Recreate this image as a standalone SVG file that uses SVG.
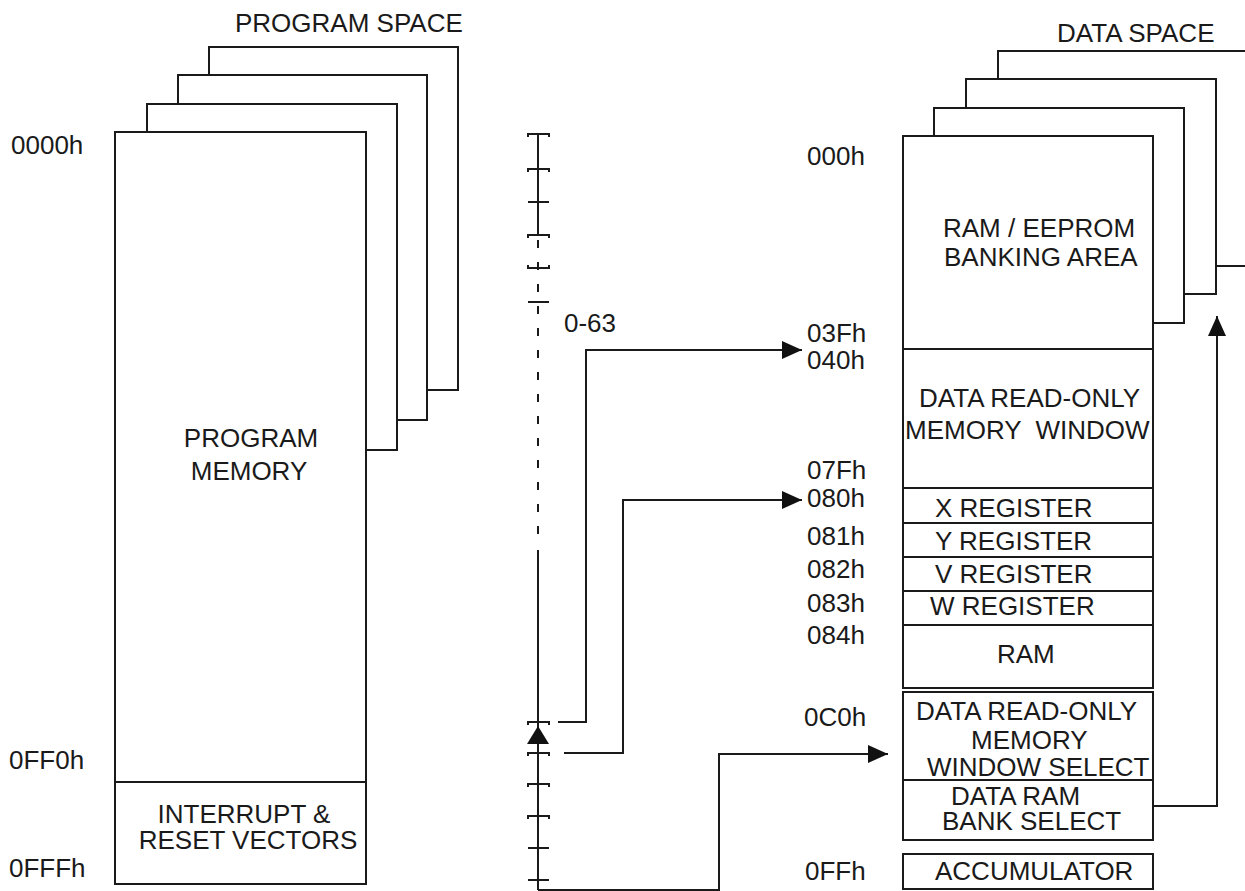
<svg xmlns="http://www.w3.org/2000/svg" width="1245" height="891" viewBox="0 0 1245 891">
<style>
.ln{fill:none;stroke:#1a1a1a;stroke-width:2}
.cell{fill:none;stroke:#1a1a1a;stroke-width:2}
.t{font-family:"Liberation Sans",Arial,sans-serif;font-size:26px;fill:#1a1a1a;white-space:pre}
.m{text-anchor:middle}
.dash{fill:none;stroke:#1a1a1a;stroke-width:2;stroke-dasharray:8 14}
</style>
<defs>
<marker id="ah" markerUnits="userSpaceOnUse" markerWidth="20" markerHeight="18" refX="20" refY="9" orient="auto">
<path d="M0,0 L20,9 L0,18 z" fill="#111"/>
</marker>
</defs>
<rect width="1245" height="891" fill="#fff"/>

<g id="program-space">
<text class="t" x="235" y="32">PROGRAM SPACE</text>
<path class="ln" d="M209,75 V47 H458 V390 H427"/>
<path class="ln" d="M178,104 V75 H427 V420 H397"/>
<path class="ln" d="M147,132 V104 H397 V450 H366"/>
</g>
<g id="program-memory">
<rect class="cell" x="115" y="132" width="251" height="650"/>
<text class="t m" x="251" y="447">PROGRAM</text>
<text class="t m" x="249" y="480">MEMORY</text>
</g>
<g id="interrupt-vectors">
<rect class="cell" x="115" y="782" width="251" height="102"/>
<text class="t m" x="244" y="823">INTERRUPT &amp;</text>
<text class="t m" x="248" y="849">RESET VECTORS</text>
</g>
<g id="program-addresses">
<text class="t" x="11" y="154">0000h</text>
<text class="t" x="9" y="769">0FF0h</text>
<text class="t" x="9" y="877">0FFFh</text>
</g>

<g id="data-space">
<text class="t" x="1057" y="42">DATA SPACE</text>
<path class="ln" d="M998,79 V51 H1250 M1216,266 H1250"/>
<path class="ln" d="M966,108 V79 H1216 V294 H1184"/>
<path class="ln" d="M934,136 V108 H1184 V323 H1153"/>
</g>
<g id="banking-area">
<rect class="cell" x="903" y="136" width="250" height="213"/>
<text class="t" x="943" y="237">RAM / EEPROM</text>
<text class="t" x="944" y="266">BANKING AREA</text>
</g>
<g id="drom-window">
<rect class="cell" x="903" y="349" width="250" height="139"/>
<text class="t" x="919" y="407">DATA READ-ONLY</text>
<text class="t" x="905" y="439" xml:space="preserve">MEMORY  WINDOW</text>
</g>
<g id="x-register">
<rect class="cell" x="903" y="488" width="250" height="35"/>
<text class="t" x="935" y="517">X REGISTER</text>
</g>
<g id="y-register">
<rect class="cell" x="903" y="523" width="250" height="34"/>
<text class="t" x="935" y="550">Y REGISTER</text>
</g>
<g id="v-register">
<rect class="cell" x="903" y="557" width="250" height="34"/>
<text class="t" x="935" y="583">V REGISTER</text>
</g>
<g id="w-register">
<rect class="cell" x="903" y="591" width="250" height="34"/>
<text class="t" x="930" y="615">W REGISTER</text>
</g>
<g id="ram">
<rect class="cell" x="903" y="625" width="250" height="63"/>
<text class="t" x="997" y="663">RAM</text>
</g>
<g id="drom-window-select">
<rect class="cell" x="903" y="692" width="250" height="88"/>
<text class="t" x="916" y="720">DATA READ-ONLY</text>
<text class="t" x="971" y="749">MEMORY</text>
<text class="t" x="927" y="776">WINDOW SELECT</text>
</g>
<g id="bank-select">
<rect class="cell" x="903" y="780" width="250" height="60"/>
<text class="t" x="951" y="805">DATA RAM</text>
<text class="t" x="942" y="830">BANK SELECT</text>
</g>
<g id="accumulator">
<rect class="cell" x="903" y="854" width="250" height="35"/>
<text class="t" x="935" y="880">ACCUMULATOR</text>
</g>
<g id="data-addresses">
<text class="t" x="807" y="165">000h</text>
<text class="t" x="807" y="342">03Fh</text>
<text class="t" x="807" y="369">040h</text>
<text class="t" x="807" y="479">07Fh</text>
<text class="t" x="807" y="507">080h</text>
<text class="t" x="807" y="545">081h</text>
<text class="t" x="807" y="578">082h</text>
<text class="t" x="807" y="612">083h</text>
<text class="t" x="807" y="644">084h</text>
<text class="t" x="804" y="726">0C0h</text>
<text class="t" x="805" y="880">0FFh</text>
</g>

<g id="bank-ladder">
<path class="ln" d="M538,134 V235"/>
<path class="dash" d="M538,240 V546"/>
<path class="ln" d="M538,550 V890"/>
<path class="ln" d="M528,137 V134 H549 V137 M528,172 V169 H549 V172 M528,202 H549 M528,238 V235 H549 V238 M528,265 V268 H549 V265 M528,302 H549"/>
<path class="ln" d="M528,725 V722 H549 V725 M528,756 V753 H549 V756 M528,787 V784 H549 V787 M528,819 V816 H549 V819 M528,848 H549 M528,880 H549"/>
<polygon points="538,726 527,744 549,744" fill="#111"/>
<text class="t" x="564" y="332">0-63</text>
</g>

<g id="connectors">
<path class="ln" d="M558,722 H586 V350 H802" marker-end="url(#ah)"/>
<path class="ln" d="M564,753 H623 V500 H802" marker-end="url(#ah)"/>
<path class="ln" d="M538,890 H719 V754 H888" marker-end="url(#ah)"/>
<path class="ln" d="M1153,806 H1217 V316" marker-end="url(#ah)"/>
</g>
</svg>
